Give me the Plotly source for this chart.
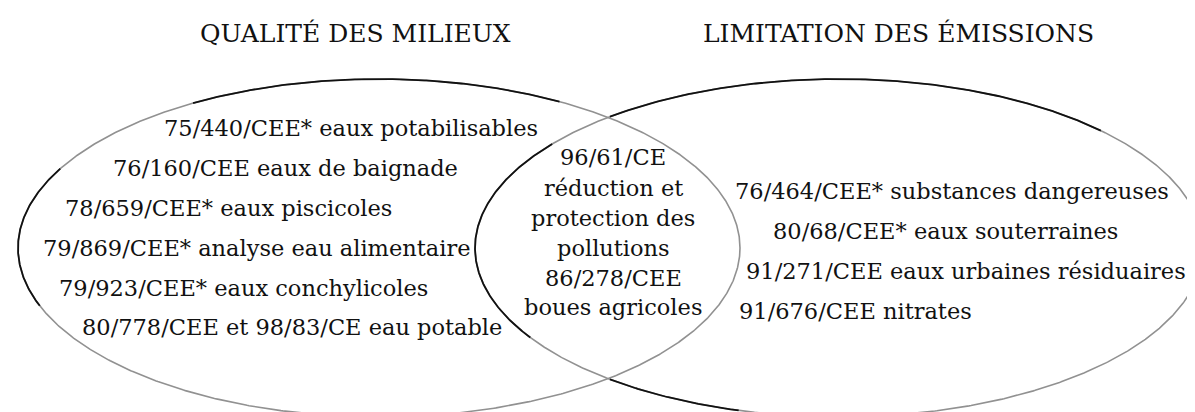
import numpy as np
import plotly.graph_objects as go

# ---- data (texts) ----
set_titles = ["QUALITÉ DES MILIEUX", "LIMITATION DES ÉMISSIONS"]
left_labels = [
    "75/440/CEE* eaux potabilisables",
    "76/160/CEE eaux de baignade",
    "78/659/CEE* eaux piscicoles",
    "79/869/CEE* analyse eau alimentaire",
    "79/923/CEE* eaux conchylicoles",
    "80/778/CEE et 98/83/CE eau potable",
]
center_labels = [
    "96/61/CE",
    "réduction et",
    "protection des",
    "pollutions",
    "86/278/CEE",
    "boues agricoles",
]
right_labels = [
    "76/464/CEE* substances dangereuses",
    "80/68/CEE* eaux souterraines",
    "91/271/CEE eaux urbaines résiduaires",
    "91/676/CEE nitrates",
]

# ---- layout (pixel-like coordinates, y downwards) ----
W, H = 1195, 412
title_pos = [(347, 25), (890, 25)]
left_pos = [(343, 120), (277, 160), (220, 200), (249, 240), (235, 280), (284, 319)]
center_pos = [(605, 149), (605, 180), (605, 210), (605, 240), (605, 270), (605, 299)]
right_pos = [(944, 183), (937, 223), (958, 263), (847, 303)]

# ellipses: cx, cy, rx, ry ; dark segments (deg ranges)
ellipses = [
    dict(cx=371, cy=240, rx=361, ry=169, dark=[(60, 121), (152, 200)]),
    dict(cx=831, cy=240, rx=364, ry=169, dark=[(44, 129), (142, 212), (231, 254)]),
]
GRAY = "#919191"
DARK = "#111111"
FONT = "DejaVu Serif"

fig = go.Figure()


def arc(e, a0, a1, color, width):
    t = np.radians(np.linspace(a0, a1, max(int(abs(a1 - a0) * 3), 4)))
    x = e["cx"] + e["rx"] * np.cos(t)
    y = e["cy"] - e["ry"] * np.sin(t)
    fig.add_trace(go.Scatter(x=x, y=y, mode="lines", hoverinfo="skip",
                             line=dict(color=color, width=width), showlegend=False))


for e in ellipses:
    arc(e, 0, 360, GRAY, 1.6)
    for a0, a1 in e["dark"]:
        arc(e, a0, a1, DARK, 1.8)

for txt, (x, y) in zip(set_titles, title_pos):
    fig.add_annotation(x=x, y=y, text=txt, showarrow=False, xanchor="center", yanchor="middle",
                       font=dict(family=FONT, size=25, color="#111"))
for labels, pos in ((left_labels, left_pos), (center_labels, center_pos), (right_labels, right_pos)):
    for txt, (x, y) in zip(labels, pos):
        fig.add_annotation(x=x, y=y, text=txt, showarrow=False, xanchor="center", yanchor="middle",
                           font=dict(family=FONT, size=22.5, color="#111"))

fig.update_xaxes(range=[0, W], visible=False, fixedrange=True)
fig.update_yaxes(range=[H, 0], visible=False, fixedrange=True)
fig.update_layout(width=W, height=H, margin=dict(l=0, r=0, t=0, b=0),
                  plot_bgcolor="white", paper_bgcolor="white")
fig.write_html("out.html")
